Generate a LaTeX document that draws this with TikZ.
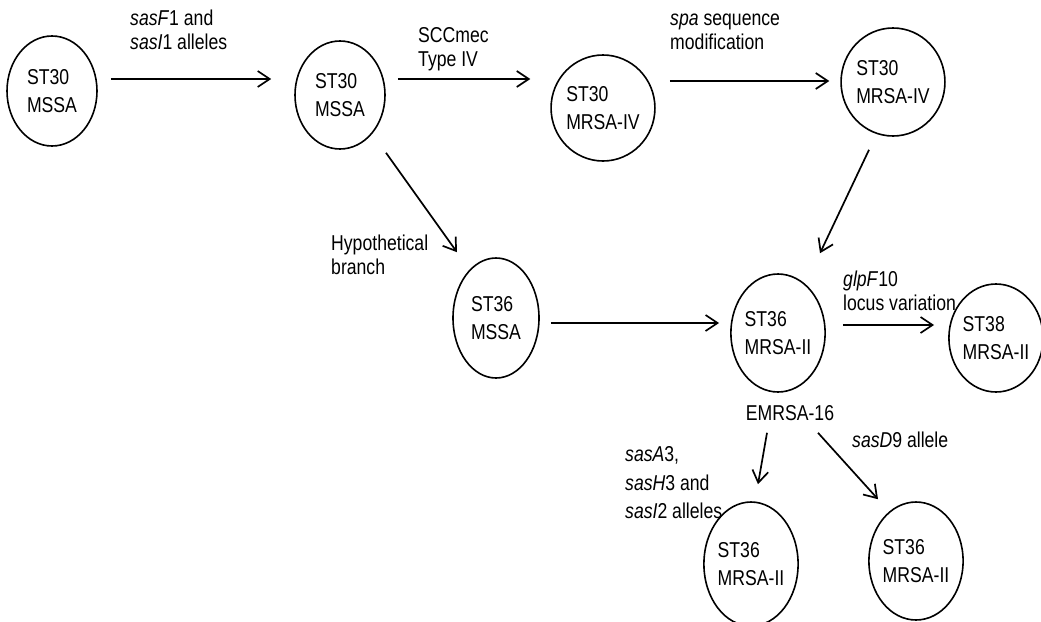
\documentclass[tikz,border=0pt]{standalone}
\usepackage{fontspec}
\setmainfont{Liberation Sans}[FakeStretch=0.82]
\usetikzlibrary{shapes.geometric,arrows.meta,calc}

\begin{document}
\begin{tikzpicture}[x=1pt,y=-1pt,
  strain/.style={draw,ellipse,line width=1.6pt,inner sep=0pt,align=left,
    font=\fontsize{21.5}{28}\selectfont},
  lbl/.style={align=left,inner sep=0pt,font=\fontsize{21.5}{24.5}\selectfont},
  arr/.style={line width=1.7pt,-{Straight Barb[length=12pt,width=16pt,line width=1.7pt]}}
]
\useasboundingbox (0,0) rectangle (1041,621);

% strains
\node[strain,minimum width=90pt,minimum height=110pt] (e1) at (52,91)  {ST30\\MSSA};
\node[strain,minimum width=90pt,minimum height=108pt] (e2) at (340,95) {ST30\\MSSA};
\node[strain,minimum width=92pt,minimum height=106pt] (e3) at (603,108) {ST30\\MRSA-IV};
\node[strain,minimum width=90pt,minimum height=108pt] (e4) at (893,82)  {ST30\\MRSA-IV};
\node[strain,minimum width=86pt,minimum height=120pt] (e5) at (496,318) {ST36\\MSSA};
\node[strain,minimum width=87pt,minimum height=118pt] (e6) at (778,333) {ST36\\MRSA-II};
\node[strain,minimum width=88pt,minimum height=108pt] (e7) at (996,338) {ST38\\MRSA-II};
\node[strain,minimum width=88pt,minimum height=124pt] (e8) at (751,564) {ST36\\MRSA-II};
\node[strain,minimum width=88pt,minimum height=118pt] (e9) at (916,561) {ST36\\MRSA-II};

% labels
\node[lbl,anchor=west] (l1) at (130,30) {\textit{sasF}1 and\\\textit{sasI}1 alleles};
\node[lbl,anchor=west] (l2) at (418,49) {SCCmec\\Type IV};
\node[lbl,anchor=west] (l3) at (670,32) {\textit{spa} sequence\\modification};
\node[lbl,anchor=west] (l4) at (331,255) {Hypothetical\\branch};
\node[lbl,anchor=west] (l5) at (843,291) {\textit{glpF}10\\locus variation};
\node[lbl] (em) at (790,413) {EMRSA-16};
\node[lbl,anchor=west,font=\fontsize{21.5}{28.5}\selectfont] (l7) at (625,483)
  {\textit{sasA}3,\\\textit{sasH}3 and\\\textit{sasI}2 alleles};
\node[lbl,anchor=west] (l8) at (852,440) {\textit{sasD}9 allele};

% transitions
\draw[arr] ($(e1.east)+(13,-12)$) -- ($(e2.west)+(-23,-16)$);
\draw[arr] ($(e2.east)+(12,-16)$) -- ($(e3.west)+(-20,-29)$);
\draw[arr] ($(e3.east)+(14,-27)$) -- ($(e4.west)+(-11,-1)$);
\draw[arr] ($(e4.south)+(-24,13)$) -- ($(e6.north)+(42,-20)$);
\draw[arr] ($(e2.south)+(46,3)$) -- ($(e5.north)+(-39,-5)$);
\draw[arr] ($(e5.east)+(11,5)$) -- ($(e6.west)+(-11,-10)$);
\draw[arr] ($(e6.east)+(17,-8)$) -- ($(e7.west)+(-14,-13)$);
\draw[arr] ($(em.south)+(-23,12)$) -- ($(e8.north)+(7,-17)$);
\draw[arr] ($(em.south)+(28,12)$) -- ($(e9.north)+(-38,-2)$);
\end{tikzpicture}
\end{document}
